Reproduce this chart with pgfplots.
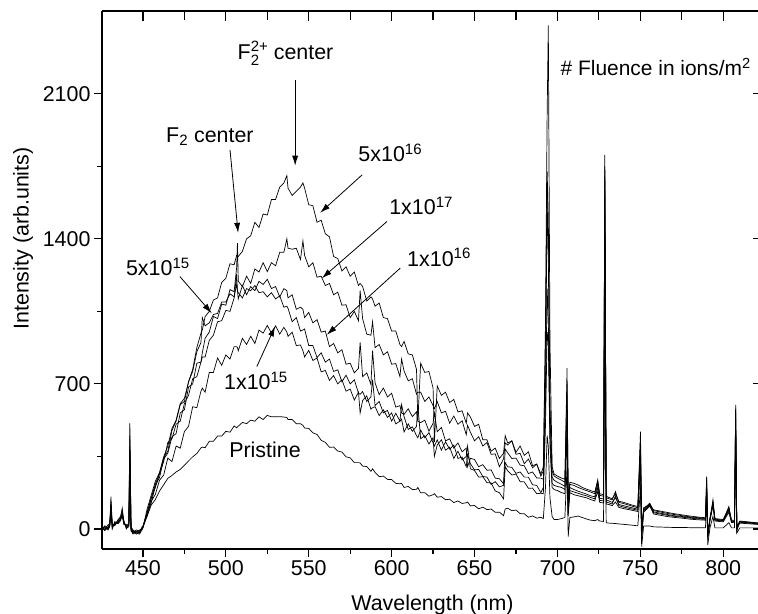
\documentclass[border=0pt]{standalone}
\usepackage{fontspec}
\setmainfont{Liberation Sans}
\usepackage{pgfplots}
\usepackage{pgfplotstable}
\pgfplotsset{compat=1.18}
\usetikzlibrary{arrows.meta}

% x = wavelength (nm); P = pristine, D = 1e15, B = 5e15, C = 1e16, A = 5e16, E = 1e17
\pgfplotstableread{
x P D B C A E
425 5 10 -5 8 0 12
427 -8 5 15 -3 10 -2
429 10 -5 5 20 0 8
430 20 15 30 25 10 20
430.7 156 120 100 90 80 130
431.5 15 10 5 20 0 15
433 25 20 30 15 35 20
435 40 35 30 45 25 30
436.5 55 45 50 60 40 50
437.5 100 60 70 90 80 65
438.5 30 25 35 20 40 30
440 10 15 5 20 0 12
441.5 20 15 10 25 20 15
442.1 510 400 350 300 450 380
442.8 0 -10 5 -5 10 0
444 -15 -20 -10 -25 -5 -15
446 -20 -10 -25 -15 -20 -5
448 -10 -20 -15 -5 -25 -10
449.5 5 0 10 -5 0 5
450 8 12 5 15 10 6
452.5 61 63 95 70 82 77
455 115 133 163 147 150 125
457.5 142 167 230 200 217 210
460 183 235 272 267 268 248
462.5 213 260 347 325 345 337
465 244 342 400 417 375 365
467.5 258 325 485 435 475 445
470 275 400 525 505 520 460
472.5 287 390 605 520 600 560
475 307 470 630 605 615 575
477.5 328 495 710 645 710 685
480 348 590 760 725 770 700
482.5 364 585 855 735 875 800
485 391 665 900 805 945 805
485.8 395 680 1020 830 960 850
487.5 392 660 980 830 1025 920
490 423 755 995 910 1050 950
492.5 423 755 1035 935 1105 1025
495 448 825 1040 1000 1115 1015
497.5 448 790 1095 1005 1190 1085
500 471 840 1095 1055 1210 1080
502.5 467 820 1135 1050 1280 1155
505 497 880 1120 1115 1275 1145
506.5 488 880 1180 1230 1320 1260
507 492 875 1150 1150 1318 1380
507.5 496 860 1140 1110 1315 1195
510 514 920 1115 1175 1340 1170
512.5 508 890 1160 1130 1400 1220
515 525 930 1150 1170 1415 1185
517.5 520 895 1175 1150 1480 1255
520 541 960 1140 1195 1455 1240
522.5 528 945 1145 1180 1520 1285
525 548 982 1120 1205 1515 1242
527.5 541 945 1140 1160 1590 1285
530 541 980 1110 1170 1590 1270
532.5 542 940 1125 1120 1650 1335
535 540 973 1070 1160 1670 1335
536.8 538 950 1075 1150 1705 1400
537.5 528 930 1065 1115 1645 1355
540 528 950 1000 1130 1610 1350
542.5 508 885 1020 1060 1630 1355
545 508 888 955 1070 1650 1300
546.5 500 860 960 1060 1670 1390
547.5 487 830 965 1020 1645 1320
550 485 862 885 1045 1565 1265
552.5 464 813 885 995 1560 1285
555 456 825 827 1010 1480 1215
557.5 428 758 850 950 1490 1220
560 418 765 805 955 1425 1175
562.5 394 717 820 880 1410 1185
565 395 740 760 895 1315 1130
567.5 376 700 768 850 1305 1143
570 371 720 710 865 1245 1080
572.5 348 665 742 795 1265 1082
575 343 675 700 800 1220 1020
577.5 320 622 720 753 1240 1050
580 320 660 655 775 1175 1005
581 318 560 650 900 1185 1150
582.5 303 620 663 735 1170 1015
585 301 642 615 753 1100 940
587.5 278 578 637 697 1120 935
588.5 290 585 720 860 1110 1000
590 273 590 595 705 1075 875
592.5 252 547 615 648 1090 890
595 255 575 560 680 1020 840
597.5 239 538 572 637 1015 855
600 238 560 520 655 955 795
602.5 220 507 558 588 955 798
605 218 520 520 595 890 735
606 220 530 600 560 880 820
607.5 200 468 542 553 905 762
610 205 507 480 580 845 715
612.5 190 471 493 542 840 725
615 191 495 450 565 770 650
615.8 200 600 440 520 520 660
617.5 174 435 477 513 800 660
620 175 450 440 525 755 615
622.5 158 410 465 472 760 637
625 165 440 415 510 680 595
625.8 170 350 400 560 420 580
627.5 153 405 430 470 690 615
630 156 430 380 490 645 560
632.5 141 380 420 425 660 568
635 143 395 385 435 610 510
637.5 127 340 405 390 625 545
640 135 375 340 415 565 505
642.5 123 333 347 372 570 522
645 126 350 300 390 510 455
645.8 130 400 360 300 560 500
647.5 111 290 315 341 540 467
650 113 282 285 335 495 425
652.5 97 250 287 300 505 445
655 105 252 253 310 430 400
657.5 93 223 250 283 430 417
660 96 222 215 285 375 360
662.5 80 183 228 245 390 362
665 81 175 203 242 340 300
667.5 64 145 210 218 365 338
668.5 96 300 320 385 450 415
670 100 280 300 367 415 405
672.5 88 260 297 340 425 425
675 91 265 268 342 370 360
677.5 74 228 275 308 400 365
680 73 227 250 305 355 315
682.5 56 196 250 267 372 337
685 63 197 213 275 305 295
687.5 52 170 210 246 313 313
690 56 172 175 245 265 255
691.5 50 170 200 240 300 280
692.8 200 500 600 700 900 1000
693.8 450 950 1160 1590 1725 2000
694.5 400 900 1000 1300 1500 2430
695.5 150 400 450 550 600 900
696.8 60 200 220 250 280 300
698 45 190 210 235 255 265
700 45 185 205 225 245 255
702.5 50 175 200 215 235 245
704.5 55 170 190 205 225 240
705.8 300 450 500 600 776 700
706.5 -37 60 80 100 120 150
707.5 55 175 185 200 215 225
710 58 165 178 190 210 220
712.5 62 160 172 182 200 212
715 55 155 165 175 192 200
717.5 48 150 160 168 185 192
720 42 142 152 160 178 185
722.5 40 135 145 155 170 178
724.3 45 180 200 220 237 230
725.5 38 128 138 148 162 170
727.8 36 125 135 145 158 165
728.6 900 1500 1600 1700 1806 1750
729.4 30 120 130 140 150 158
731 28 118 126 135 146 152
733 27 112 120 128 140 146
735 26 130 160 150 180 170
737 24 104 112 118 128 134
740 22 98 105 112 122 128
745 18 90 96 102 110 115
748.5 15 84 90 95 102 108
750.1 200 300 350 400 470 430
750.8 -85 -40 -20 0 20 -60
752 14 80 86 90 96 102
755.7 14 110 115 120 124 118
758 10 72 78 82 88 92
762 9 66 72 76 82 86
766 8 60 66 70 75 80
770 7 56 61 64 70 74
775 7 52 57 60 64 68
780 6 47 52 55 58 62
785 6 44 48 51 54 57
789.3 5 42 46 48 51 54
790 150 200 253 180 220 240
790.7 -77 -40 -20 -50 -10 -30
792 5 40 44 46 49 52
793.8 60 110 140 120 130 125
795 5 38 42 44 47 50
800 5 34 38 40 42 45
803.4 30 80 90 95 108 100
805 5 31 35 37 39 42
806.8 5 30 34 36 38 41
807.5 400 480 530 560 599 580
808.2 -20 0 10 5 15 -10
810 5 28 32 34 36 38
815 5 25 28 30 32 34
820 5 22 25 27 28 30
824 5 20 24 26 27 28
}\spectra

\begin{document}
\begin{tikzpicture}[font=\fontsize{21.5}{25}\selectfont]
\pgfplotsset{
  frame/.style={
    scale only axis, width=661bp, height=538bp,
    xmin=425.3, xmax=824, ymin=-97, ymax=2500,
    xtick={450,500,...,800}, ytick={0,700,1400,2100},
    minor x tick num=1,
    axis line style={-, line width=1.2pt},
    every tick/.style={black, line width=1.2pt},
    major tick length=10bp, minor tick length=6bp,
    /pgf/number format/assume math mode=true,
    /pgf/number format/1000 sep={},
    tick label style={font=\fontsize{21.5}{25}\selectfont},
  },
  spec/.style={black, line width=0.7pt, mark=none},
}
% top and right: ticks pointing in, no labels
\begin{axis}[frame, axis x line*=top, axis y line*=right,
  tick align=inside, minor y tick num=0, minor tick length=9bp,
  xticklabels={}, yticklabels={}]
\end{axis}
\begin{axis}[frame, axis x line*=bottom, axis y line*=left,
  tick align=outside, minor y tick num=1, major tick length=8bp, minor tick length=5bp,
  xlabel={Wavelength (nm)}, ylabel={Intensity (arb.units)},
  xlabel style={at={(axis description cs:0.5,-0.104)}, anchor=center},
  ylabel style={at={(axis description cs:-0.1195,0.577)}, anchor=center}]
\addplot[spec] table[x=x, y=P] {\spectra};
\addplot[spec] table[x=x, y=D] {\spectra};
\addplot[spec] table[x=x, y=B] {\spectra};
\addplot[spec] table[x=x, y=C] {\spectra};
\addplot[spec] table[x=x, y=A] {\spectra};
\addplot[spec] table[x=x, y=E] {\spectra};

\node[inner sep=0pt] at (axis cs:490.4,1893) {F\textsubscript{2} center};
\node[inner sep=0pt] at (axis cs:536,2295) {F\raisebox{-6bp}{\fontsize{15}{15}\selectfont\shortstack[l]{2+\\[1bp]2}} center};
\node[inner sep=0pt] at (axis cs:599.2,1815) {5x10\textsuperscript{16}};
\node[inner sep=0pt] at (axis cs:617.8,1559) {1x10\textsuperscript{17}};
\node[inner sep=0pt] at (axis cs:628.6,1311) {1x10\textsuperscript{16}};
\node[inner sep=0pt] at (axis cs:459,1265) {5x10\textsuperscript{15}};
\node[inner sep=0pt] at (axis cs:518.2,715) {1x10\textsuperscript{15}};
\node[inner sep=0pt] at (axis cs:523.6,384) {Pristine};
\node[inner sep=0pt, font=\fontsize{21}{25}\selectfont] at (axis cs:759.3,2230) {\# Fluence in ions/m\textsuperscript{2}};

\begin{scope}[-{Latex[length=10bp,width=6bp]}, line width=0.8pt]
\draw (axis cs:502.5,1830) -- (axis cs:507.4,1429);
\draw (axis cs:541.8,2168) -- (axis cs:541.8,1753);
\draw (axis cs:582.2,1709) -- (axis cs:556.9,1526);
\draw (axis cs:597.2,1484) -- (axis cs:557.9,1210);
\draw (axis cs:605.2,1259) -- (axis cs:560.9,937);
\draw (axis cs:472.3,1218) -- (axis cs:491.5,1041);
\draw (axis cs:518.7,784) -- (axis cs:529.7,977);
\end{scope}
\end{axis}
\pgfresetboundingbox
\path[use as bounding box] ([shift={(-102bp,-65bp)}]current axis.south west) rectangle ([shift={(-5bp,11bp)}]current axis.north east);
\end{tikzpicture}
\end{document}
